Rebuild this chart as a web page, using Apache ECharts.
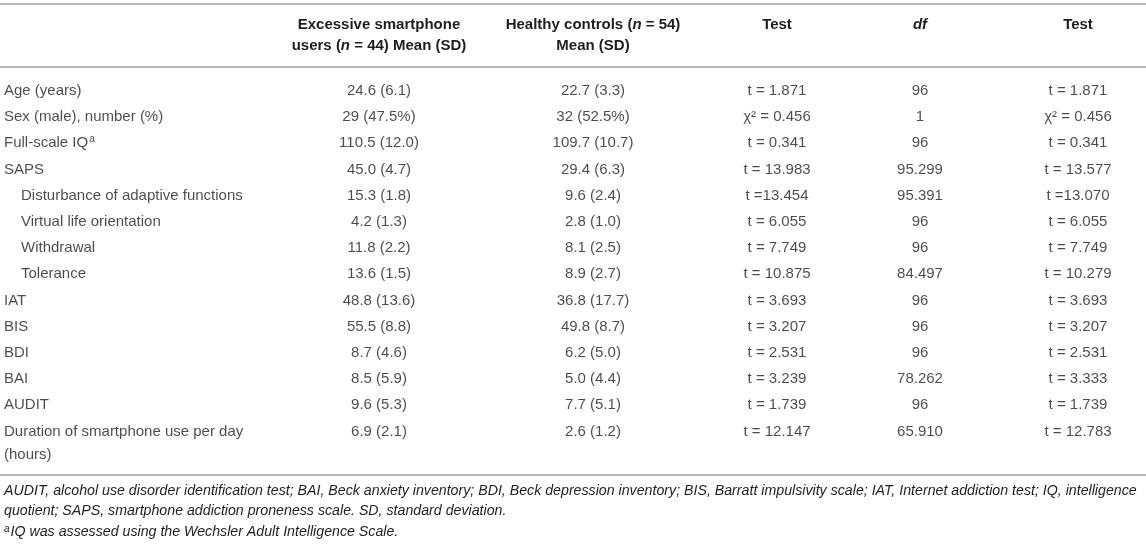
<!DOCTYPE html>
<html><head><meta charset="utf-8">
<script src="https://cdn.jsdelivr.net/npm/echarts@6/dist/echarts.min.js"></script>
<style>html,body{margin:0;padding:0;background:#fff}#c{width:1146px;height:544px}</style>
</head><body><div id="c"></div>
<script>
// ---- data ----
const rowLabels = ['Age (years)','Sex (male), number (%)','Full-scale IQ','SAPS','Disturbance of adaptive functions','Virtual life orientation','Withdrawal','Tolerance','IAT','BIS','BDI','BAI','AUDIT','Duration of smartphone use per day\n(hours)'];
const rowSup = ['','','a','','','','','','','','','','',''];
const subRows = [false,false,false,false,true,true,true,true,false,false,false,false,false,false];
const excessive = ['24.6 (6.1)','29 (47.5%)','110.5 (12.0)','45.0 (4.7)','15.3 (1.8)','4.2 (1.3)','11.8 (2.2)','13.6 (1.5)','48.8 (13.6)','55.5 (8.8)','8.7 (4.6)','8.5 (5.9)','9.6 (5.3)','6.9 (2.1)'];
const healthy = ['22.7 (3.3)','32 (52.5%)','109.7 (10.7)','29.4 (6.3)','9.6 (2.4)','2.8 (1.0)','8.1 (2.5)','8.9 (2.7)','36.8 (17.7)','49.8 (8.7)','6.2 (5.0)','5.0 (4.4)','7.7 (5.1)','2.6 (1.2)'];
const test1 = ['t = 1.871','χ² = 0.456','t = 0.341','t = 13.983','t =13.454','t = 6.055','t = 7.749','t = 10.875','t = 3.693','t = 3.207','t = 2.531','t = 3.239','t = 1.739','t = 12.147'];
const dfVals = ['96','1','96','95.299','95.391','96','96','84.497','96','96','96','78.262','96','65.910'];
const test2 = ['t = 1.871','χ² = 0.456','t = 0.341','t = 13.577','t =13.070','t = 6.055','t = 7.749','t = 10.279','t = 3.693','t = 3.207','t = 2.531','t = 3.333','t = 1.739','t = 12.783'];
const headers = [
  '{b|Excessive smartphone}\n{b|users (}{bi|n}{b| = 44) Mean (SD)}',
  '{b|Healthy controls (}{bi|n}{b| = 54)}\n{b|Mean (SD)}',
  '{b|Test}\n{b| }',
  '{bi|df}\n{b| }',
  '{b|Test}\n{b| }'
];
const footnotes = [
  'AUDIT, alcohol use disorder identification test; BAI, Beck anxiety inventory; BDI, Beck depression inventory; BIS, Barratt impulsivity scale; IAT, Internet addiction test; IQ, intelligence',
  'quotient; SAPS, smartphone addiction proneness scale. SD, standard deviation.',
  '{s|a}{i|IQ was assessed using the Wechsler Adult Intelligence Scale.}'
];

// ---- layout ----
const W = 1146;
const colX = [4, 379, 593, 777, 920, 1078];
const ROW_TOP = 77.8, ROW_H = 26.2;
const FONT = '"Liberation Sans", Arial, Helvetica, sans-serif';
const TXT = '#1e1e1e';
const LINE = '#b8b8b8';

const dataCols = [excessive, healthy, test1, dfVals, test2];

const series = [];
series.push({
  type: 'scatter', symbolSize: 1, itemStyle: {color: 'rgba(0,0,0,0)'}, silent: true,
  data: rowLabels.map((r, i) => ({
    value: [colX[0], i],
    label: {
      show: true, position: 'inside', align: 'left', verticalAlign: 'top',
      offset: [subRows[i] ? 17 : 0, -11.5],
      formatter: () => r.split('\n').map((l, k) => '{t|' + l + '}' + (k === 0 && rowSup[i] ? '{sup|' + rowSup[i] + '}' : '')).join('\n'),
      rich: {
        t: {fontSize: 15, fontFamily: FONT, color: TXT, lineHeight: 23},
        sup: {fontSize: 10, fontFamily: FONT, color: TXT, lineHeight: 12, verticalAlign: 'top', padding: [2, 0, 0, 1]}
      }
    }
  }))
});
dataCols.forEach((col, c) => {
  series.push({
    type: 'scatter', symbolSize: 1, itemStyle: {color: 'rgba(0,0,0,0)'}, silent: true,
    data: col.map((v, i) => ({value: [colX[c + 1], i], label: {formatter: v}})),
    label: {show: true, position: 'inside', align: 'center', verticalAlign: 'middle',
      fontSize: 15, fontFamily: FONT, color: TXT}
  });
});

const footGraphics = footnotes.map((f, k) => ({
  type: 'text', left: 4, top: [484, 504, 523][k],
  style: {
    text: k === 2 ? f : '{i|' + f + '}',
    rich: {
      i: {fontSize: 14.2, fontStyle: 'italic', fontFamily: FONT, fill: TXT, lineHeight: 19},
      s: {fontSize: 10, fontStyle: 'italic', fontFamily: FONT, fill: TXT, lineHeight: 10, verticalAlign: 'top', padding: [1, 1, 0, 0]}
    }
  },
  silent: true
}));

const chart = echarts.init(document.getElementById('c'), null, {renderer: 'canvas'});
chart.setOption({
  animation: false,
  backgroundColor: '#fff',
  grid: {left: 0, right: 0, top: ROW_TOP, height: ROW_H * rowLabels.length},
  xAxis: {
    type: 'value', min: 0, max: W, position: 'top',
    axisLine: {show: false}, axisTick: {show: false}, splitLine: {show: false},
    axisLabel: {
      show: true, customValues: colX.slice(1), margin: 21.6,
      formatter: v => headers[colX.indexOf(v) - 1] || '',
      rich: {
        b: {fontSize: 15, fontWeight: 'bold', fontFamily: FONT, color: TXT, lineHeight: 21},
        bi: {fontSize: 15, fontWeight: 'bold', fontStyle: 'italic', fontFamily: FONT, color: TXT, lineHeight: 21}
      }
    }
  },
  yAxis: {
    type: 'category', inverse: true, data: rowLabels, show: false
  },
  series: series,
  graphic: [
    {type: 'rect', shape: {x: 0, y: 3, width: W, height: 2}, style: {fill: LINE}, silent: true},
    {type: 'rect', shape: {x: 0, y: 66, width: W, height: 2}, style: {fill: LINE}, silent: true},
    {type: 'rect', shape: {x: 0, y: 474, width: W, height: 2}, style: {fill: LINE}, silent: true}
  ].concat(footGraphics)
});
</script>
</body></html>
